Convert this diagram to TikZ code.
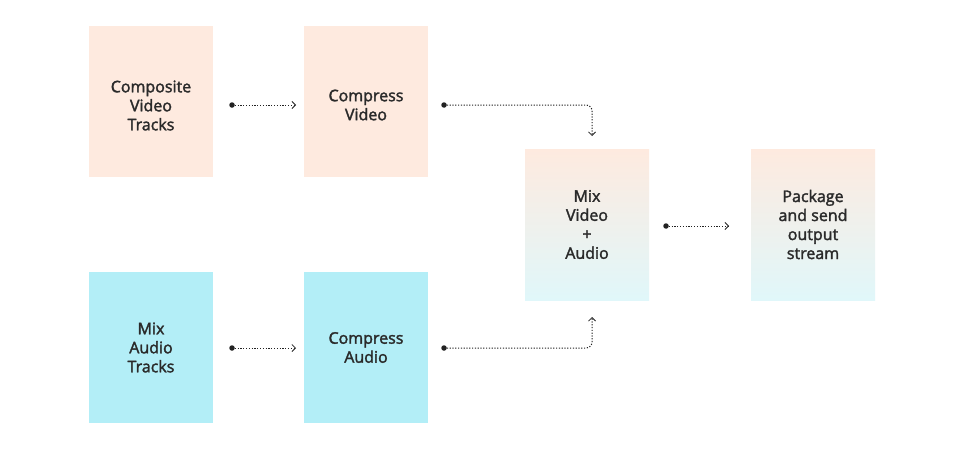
\documentclass[tikz,border=0pt]{standalone}
\usepackage{fontspec}
\setmainfont{Open Sans}[BoldFont={Open Sans},BoldFeatures={FakeBold=2}]
\usetikzlibrary{arrows.meta,positioning}
\definecolor{peach}{HTML}{FEEADF}
\definecolor{cyanbox}{HTML}{B3EEF7}
\definecolor{lightcyan}{HTML}{E0F7FA}
\definecolor{txt}{HTML}{2A2A2A}
\definecolor{conn}{HTML}{222222}
\begin{document}
\begin{tikzpicture}[x=1pt,y=-1pt,
  box/.style={minimum width=124pt,minimum height=151pt,inner sep=0pt},
  vbox/.style={box,fill=peach},
  abox/.style={box,fill=cyanbox},
  gbox/.style={box,top color=peach,bottom color=lightcyan,middle color=peach!50!lightcyan},
  link/.style={conn,line width=1pt,dash pattern=on 1.2pt off 1.6pt,
    -{Straight Barb[length=3.5pt,width=7pt,line width=0.8pt]},rounded corners=6pt},
  startdot/.style={circle,fill=conn,inner sep=0pt,minimum size=5.5pt},
  lbl/.style={align=center,font=\fontsize{16}{19}\selectfont\bfseries,text=txt,inner sep=0pt}
]
\useasboundingbox (0,0) rectangle (960,455);
\fill[white] (0,0) rectangle (960,455);
\node[vbox] (cvt) at (151,101.5) {};
\node[vbox] (cv) at (366,101.5) {};
\node[abox] (mat) at (151,347.5) {};
\node[abox] (ca) at (366,347.5) {};
\node[gbox] (mix) at (587,224.5) {};
\node[gbox] (pkg) at (813,224.5) {};
\node[lbl] at ([yshift=-4pt]cvt.center) {Composite\\Video\\Tracks};
\node[lbl] at ([yshift=-3.5pt]cv.center) {Compress\\Video};
\node[lbl] at ([yshift=0pt]mat.center) {Mix\\Audio\\Tracks};
\node[lbl] at ([yshift=0pt]ca.center) {Compress\\Audio};
\node[lbl] at ([yshift=0pt]mix.center) {Mix\\Video\\+\\Audio};
\node[lbl] at ([yshift=0pt]pkg.center) {Package\\and send\\output\\stream};

\coordinate (s1) at (232,105); \coordinate (e1) at (296,105);
\coordinate (s2) at (444,105); \coordinate (e2) at (592,136);
\coordinate (s3) at (232,348); \coordinate (e3) at (296,348);
\coordinate (s4) at (444,348); \coordinate (e4) at (592,317);
\coordinate (s5) at (666,226); \coordinate (e5) at (729,226);

\foreach \s in {s1,s2,s3,s4,s5} \node[startdot] at (\s) {};
\draw[link] (s1) -- (e1);
\draw[link] (s2) -| (e2);
\draw[link] (s3) -- (e3);
\draw[link] (s4) -| (e4);
\draw[link] (s5) -- (e5);
\end{tikzpicture}
\end{document}
